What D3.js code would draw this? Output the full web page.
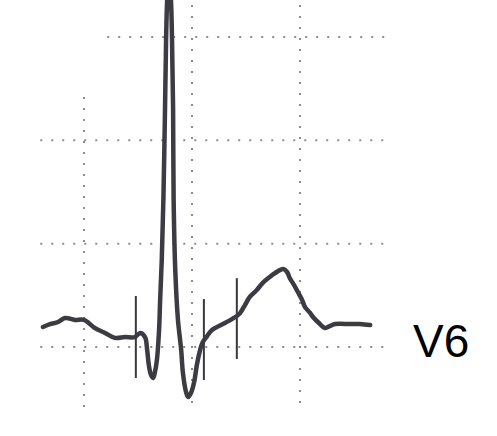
<!DOCTYPE html>
<html>
<head>
<meta charset="utf-8">
<script src="https://cdn.jsdelivr.net/npm/d3@7"></script>
<style>
  html, body { margin: 0; padding: 0; background: #fff; }
  svg { display: block; }
</style>
</head>
<body>
<div id="chart"></div>
<script>
// lead V6 trace, time in ms, amplitude in mV
const timeMs = [124, 137, 152, 165, 183, 200, 220, 239, 257, 276, 294, 304, 313, 317, 320, 324, 328, 331, 335, 339,
  341, 344, 347, 350, 352, 354, 357, 361, 363, 365, 366, 369, 374, 380, 383, 389, 393, 398, 404, 409,
  415, 420, 428, 437, 461, 483, 489, 498, 507, 520, 531, 544, 554, 569, 576, 581, 589, 596, 604, 609,
  619, 624, 635, 646, 656, 665, 693, 711, 730];
const millivolts = [0.097, 0.111, 0.121, 0.140, 0.131, 0.131, 0.092, 0.068, 0.044, 0.048, 0.048, 0.068, 0.048, -0.015, -0.087, -0.135, -0.150, -0.126, -0.063, 0.082,
  0.227, 0.421, 0.711, 1.147, 1.485, 1.679, 1.800, 1.679, 1.485, 1.147, 0.711, 0.373, 0.131, -0.015, -0.121, -0.218, -0.242, -0.223, -0.169, -0.087,
  -0.015, 0.024, 0.053, 0.082, 0.116, 0.150, 0.164, 0.203, 0.242, 0.276, 0.310, 0.339, 0.358, 0.377, 0.363, 0.334, 0.300, 0.266, 0.227, 0.194,
  0.164, 0.145, 0.116, 0.092, 0.102, 0.111, 0.111, 0.111, 0.106];

// caliper marks on the trace
const markerMs = [296, 422, 483];
const markerTop = [0.247, 0.232, 0.333];
const markerBottom = [-0.150, -0.160, -0.058];

const gridTimes = [200, 400, 600];
const gridVolts = [0, 0.5, 1.0, 1.5];
const leadLabel = "V6";

const width = 497, height = 436;

const x = d3.scaleLinear().domain([200, 600]).range([84, 300]);
const y = d3.scaleLinear().domain([0, 1.5]).range([347, 37]);

const svg = d3.select("#chart").append("svg")
  .attr("width", width)
  .attr("height", height);

// dotted grid
const grid = svg.append("g")
  .attr("stroke", "#8c8c8c")
  .attr("stroke-width", 2)
  .attr("stroke-dasharray", "2 9");

grid.selectAll("line.h")
  .data(gridVolts)
  .join("line")
  .attr("class", "h")
  .attr("x1", d => x(d === 1.5 ? 243 : 119))
  .attr("x2", x(767))
  .attr("y1", d => y(d))
  .attr("y2", d => y(d));

grid.selectAll("line.v")
  .data(gridTimes)
  .join("line")
  .attr("class", "v")
  .attr("x1", d => x(d))
  .attr("x2", d => x(d))
  .attr("y1", d => y(d === 200 ? 1.21 : 1.655))
  .attr("y2", y(-0.295));

// caliper marks
svg.append("g")
  .selectAll("line")
  .data(markerMs)
  .join("line")
  .attr("x1", d => x(d))
  .attr("x2", d => x(d))
  .attr("y1", (d, i) => y(markerTop[i]))
  .attr("y2", (d, i) => y(markerBottom[i]))
  .attr("stroke", "#3a383e")
  .attr("stroke-width", 2);

// trace
const line = d3.line()
  .x((d, i) => x(timeMs[i]))
  .y(d => y(d))
  .curve(d3.curveCatmullRom.alpha(0.5));

svg.append("path")
  .datum(millivolts)
  .attr("d", line)
  .attr("fill", "none")
  .attr("stroke", "#3d3b42")
  .attr("stroke-width", 4.5)
  .attr("stroke-linejoin", "round")
  .attr("stroke-linecap", "round");

svg.append("text")
  .attr("x", 413)
  .attr("y", 357)
  .attr("font-family", "Liberation Sans, Arial, sans-serif")
  .attr("font-size", 46)
  .attr("fill", "#000")
  .text(leadLabel);
</script>
</body>
</html>
